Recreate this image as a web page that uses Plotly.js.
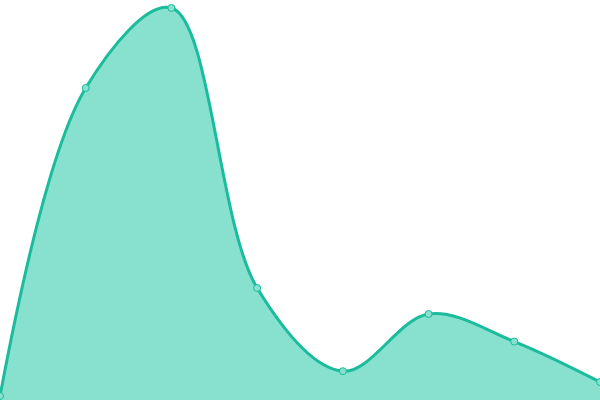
<!DOCTYPE html>
<html>
<head>
<meta charset="utf-8">
<script src="https://cdn.plot.ly/plotly-3.0.1.min.js"></script>
<style>html,body{margin:0;padding:0;background:#fff;}#chart{width:600px;height:400px;}</style>
</head>
<body>
<div id="chart"></div>
<script>
var categories = [0, 1, 2, 3, 4, 5, 6, 7];
var values = [1, 78, 98, 28, 7.2, 21.5, 14.6, 4.5];

var trace = {
  x: categories,
  y: values,
  type: 'scatter',
  mode: 'lines+markers',
  fill: 'tozeroy',
  fillcolor: '#88e0cf',
  line: {shape: 'spline', smoothing: 1, color: '#1abc9c', width: 3},
  marker: {size: 7, color: '#88e0cf', line: {color: '#1abc9c', width: 1}},
  cliponaxis: false,
  hoverinfo: 'none'
};

var layout = {
  width: 600,
  height: 400,
  margin: {l: 0, r: 0, t: 0, b: 0, pad: 0},
  paper_bgcolor: '#ffffff',
  plot_bgcolor: '#ffffff',
  showlegend: false,
  xaxis: {range: [0, 7], visible: false, fixedrange: true},
  yaxis: {range: [0, 100], visible: false, fixedrange: true}
};

Plotly.newPlot('chart', [trace], layout, {displayModeBar: false, staticPlot: true});
</script>
</body>
</html>
